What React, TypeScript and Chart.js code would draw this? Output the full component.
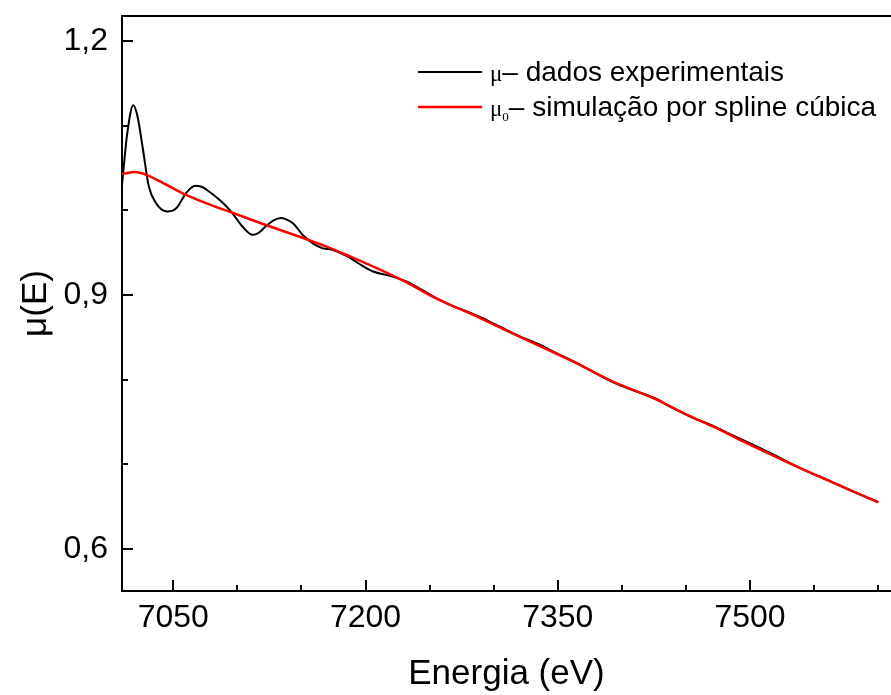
import React, { useEffect, useRef } from 'react';
import { Chart, registerables } from 'chart.js';

Chart.register(...registerables);

// ---- data ----
const energyExp = [
  7010, 7014, 7018.8, 7022, 7026, 7031, 7036.5, 7041, 7045.6, 7050, 7053.4, 7060, 7067, 7072, 7076,
  7086, 7090, 7096, 7104, 7112, 7117, 7122, 7128, 7134, 7139, 7144, 7151, 7159, 7166, 7174, 7180,
  7186, 7195, 7206, 7219, 7232, 7243, 7253, 7266, 7280, 7290, 7305, 7320, 7335, 7350, 7365, 7380,
  7395, 7410, 7425, 7440, 7455, 7470, 7485, 7500, 7515, 7530, 7545, 7560, 7575, 7590, 7600,
];
const muExp = [
  1.03, 1.09, 1.1245, 1.112, 1.0757, 1.028, 1.0088, 1.001, 0.9988, 1.0, 1.0047, 1.0206, 1.0292, 1.028, 1.0245,
  1.0127, 1.007, 0.997, 0.981, 0.9712, 0.974, 0.981, 0.988, 0.991, 0.989, 0.984, 0.971, 0.961, 0.9555, 0.9535, 0.95,
  0.9456, 0.937, 0.9278, 0.9227, 0.916, 0.907, 0.8982, 0.8884, 0.88, 0.8735, 0.8625, 0.8515, 0.8418, 0.8305, 0.8195, 0.8072,
  0.7955, 0.7868, 0.7785, 0.7662, 0.7552, 0.746, 0.7352, 0.7245, 0.7138, 0.7022, 0.6912, 0.6818, 0.6712, 0.6615, 0.6552,
];
const energySpline = [
  7010, 7020, 7029, 7040, 7057, 7075, 7096, 7120, 7148, 7170, 7188, 7210, 7232, 7250, 7266, 7284,
  7310, 7331, 7362, 7393, 7424.5, 7450, 7474, 7495, 7531, 7563, 7600,
];
const muSpline = [
  1.043, 1.0455, 1.0422, 1.034, 1.0206, 1.009, 0.9973, 0.984, 0.9692, 0.957, 0.9456, 0.931, 0.915, 0.9, 0.8884, 0.8766,
  0.858, 0.8431, 0.8213, 0.7976, 0.778, 0.759, 0.7425, 0.7266, 0.701, 0.6793, 0.6549,
];

const xMajorTicks = [7050, 7200, 7350, 7500];
const xMinorTicks = [7100, 7150, 7250, 7300, 7400, 7450, 7550, 7600];
const yMajorTicks = [0.6, 0.9, 1.2];
const yMinorTicks = [0.7, 0.8, 1.0, 1.1];

const seriesSymbols = ['μ', 'μ'];
const seriesSubscripts = ['', '0'];
const seriesLabels = ['dados experimentais', 'simulação por spline cúbica'];
const seriesColors = ['#000000', '#ff0000'];

const xTitle = 'Energia (eV)';
const yTitle = 'μ(E)';

const SANS = '"Liberation Sans", Arial, Helvetica, sans-serif';
const SERIF = '"Liberation Serif", "Times New Roman", serif';

const decorPlugin = {
  id: 'decor',
  afterDraw(chart: any) {
    const { ctx, chartArea, scales } = chart;
    const { left, right, top, bottom } = chartArea;
    const x = scales.x;
    const y = scales.y;
    ctx.save();
    ctx.strokeStyle = '#000';
    ctx.lineWidth = 2;
    ctx.lineCap = 'butt';
    // top frame line
    ctx.beginPath();
    ctx.moveTo(left - 1, top);
    ctx.lineTo(right, top);
    ctx.stroke();
    // inward tick marks
    const drawX = (vals: number[], len: number) => {
      vals.forEach((v) => {
        const px = Math.round(x.getPixelForValue(v));
        ctx.beginPath();
        ctx.moveTo(px, bottom);
        ctx.lineTo(px, bottom - len);
        ctx.stroke();
      });
    };
    const drawY = (vals: number[], len: number) => {
      vals.forEach((v) => {
        const py = Math.round(y.getPixelForValue(v));
        ctx.beginPath();
        ctx.moveTo(left, py);
        ctx.lineTo(left + len, py);
        ctx.stroke();
      });
    };
    drawX(xMajorTicks, 11);
    drawX(xMinorTicks, 6);
    drawY(yMajorTicks, 11);
    drawY(yMinorTicks, 6);

    // legend
    const lx0 = left + 296;
    const lx1 = left + 360;
    const rows = [72, 107];
    seriesLabels.forEach((label, i) => {
      const yy = rows[i];
      ctx.strokeStyle = seriesColors[i];
      ctx.lineWidth = i === 0 ? 2 : 2.5;
      ctx.beginPath();
      ctx.moveTo(lx0, yy);
      ctx.lineTo(lx1, yy);
      ctx.stroke();
      ctx.fillStyle = '#000';
      ctx.textBaseline = 'alphabetic';
      ctx.textAlign = 'left';
      let tx = lx1 + 8;
      const base = yy + 9;
      ctx.font = `23px ${SERIF}`;
      ctx.fillText(seriesSymbols[i], tx, base);
      tx += ctx.measureText(seriesSymbols[i]).width;
      if (seriesSubscripts[i]) {
        ctx.font = `13px ${SERIF}`;
        ctx.fillText(seriesSubscripts[i], tx, base + 5);
        tx += ctx.measureText(seriesSubscripts[i]).width;
      }
      ctx.font = `28px ${SANS}`;
      ctx.fillText('– ' + label, tx, base);
    });
    ctx.restore();
  },
};

export default function App() {
  const canvasRef = useRef<HTMLCanvasElement | null>(null);

  useEffect(() => {
    const canvas = canvasRef.current;
    if (!canvas) return;
    const chart = new Chart(canvas, {
      type: 'line',
      data: {
        datasets: [
          {
            label: seriesLabels[0],
            data: energyExp.map((e, i) => ({ x: e, y: muExp[i] })),
            borderColor: seriesColors[0],
            borderWidth: 2,
            pointRadius: 0,
            fill: false,
            cubicInterpolationMode: 'monotone',
            order: 1,
          },
          {
            label: seriesLabels[1],
            data: energySpline.map((e, i) => ({ x: e, y: muSpline[i] })),
            borderColor: seriesColors[1],
            borderWidth: 2.5,
            pointRadius: 0,
            fill: false,
            cubicInterpolationMode: 'monotone',
            order: 0,
          },
        ],
      },
      options: {
        animation: false,
        responsive: false,
        maintainAspectRatio: false,
        devicePixelRatio: 1,
        layout: { padding: { top: 16, right: 0, left: 0, bottom: 0 } },
        plugins: {
          legend: { display: false },
          tooltip: { enabled: false },
          title: { display: false },
        },
        scales: {
          x: {
            type: 'linear',
            min: 7010,
            max: 7610,
            border: { display: true, color: '#000', width: 2 },
            grid: { display: false, drawTicks: false },
            afterBuildTicks: (s: any) => {
              s.ticks = xMajorTicks.map((v) => ({ value: v }));
            },
            afterFit: (s: any) => {
              s.height = 104;
              s.paddingLeft = 0;
              s.paddingRight = 0;
            },
            ticks: {
              color: '#000',
              font: { family: SANS, size: 32 },
              padding: 8,
              maxRotation: 0,
              autoSkip: false,
              callback: (v: any) => String(v),
            },
            title: {
              display: true,
              text: xTitle,
              color: '#000',
              font: { family: SANS, size: 35 },
              padding: 0,
            },
          },
          y: {
            type: 'linear',
            min: 0.55,
            max: 1.23,
            border: { display: true, color: '#000', width: 2 },
            grid: { display: false, drawTicks: false },
            afterBuildTicks: (s: any) => {
              s.ticks = yMajorTicks.map((v) => ({ value: v }));
            },
            afterFit: (s: any) => {
              s.width = 122;
              s.paddingTop = 0;
              s.paddingBottom = 0;
            },
            ticks: {
              color: '#000',
              font: { family: SANS, size: 32 },
              padding: 14,
              autoSkip: false,
              callback: (v: any) => Number(v).toFixed(1).replace('.', ','),
            },
            title: {
              display: true,
              text: yTitle,
              color: '#000',
              font: { family: SANS, size: 35 },
              padding: { top: 15, bottom: 0 },
            },
          },
        },
      },
      plugins: [decorPlugin],
    } as any);
    return () => chart.destroy();
  }, []);

  return (
    <div style={{ position: 'fixed', left: 0, top: 0, width: 891, height: 695, background: '#fff' }}>
      <canvas ref={canvasRef} width={891} height={695} style={{ display: 'block' }} />
    </div>
  );
}
